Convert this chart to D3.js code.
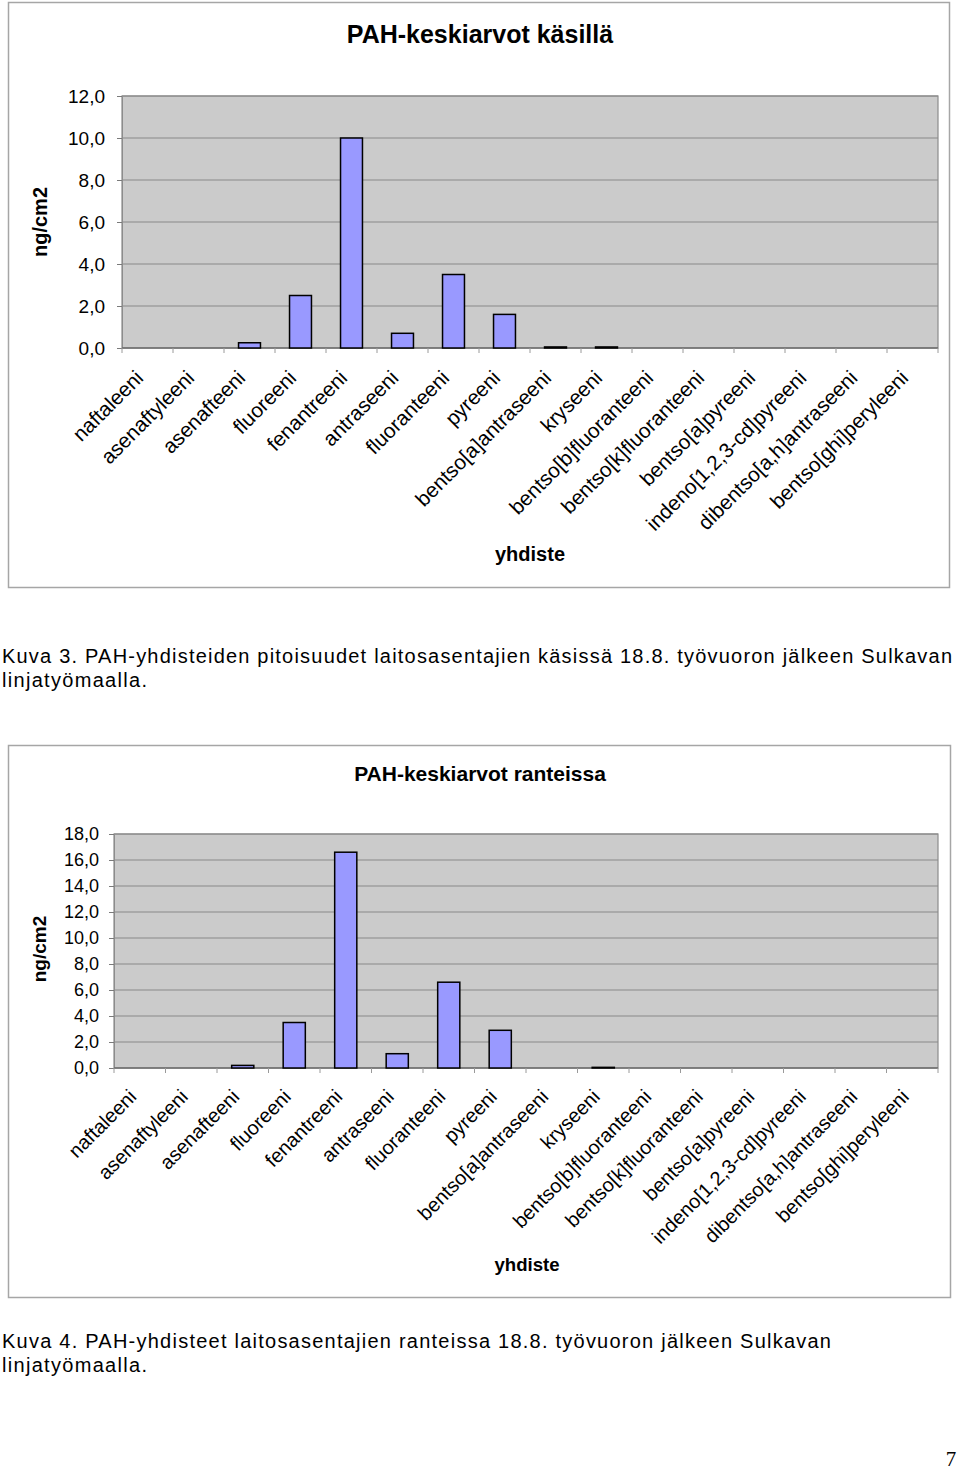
<!DOCTYPE html>
<html>
<head>
<meta charset="utf-8">
<script src="https://cdn.jsdelivr.net/npm/d3@7"></script>
<style>
  html, body { margin: 0; padding: 0; background: #ffffff; }
  svg { display: block; }
  text { font-family: "Liberation Sans", Arial, sans-serif; fill: #000; }
</style>
</head>
<body>
<svg id="page" width="960" height="1470"></svg>
<script>
// ---------------- data ----------------
const categories = [
  "naftaleeni", "asenaftyleeni", "asenafteeni", "fluoreeni", "fenantreeni",
  "antraseeni", "fluoranteeni", "pyreeni", "bentso[a]antraseeni", "kryseeni",
  "bentso[b]fluoranteeni", "bentso[k]fluoranteeni", "bentso[a]pyreeni",
  "indeno[1,2,3-cd]pyreeni", "dibentso[a,h]antraseeni", "bentso[ghi]peryleeni"
];
// Kuva 3: hands (käsillä), ng/cm2
const handsValues = [0, 0, 0.25, 2.5, 10.0, 0.7, 3.5, 1.6, 0.05, 0.05, 0, 0, 0, 0, 0, 0];
// Kuva 4: wrists (ranteissa), ng/cm2
const wristValues = [0, 0, 0.2, 3.5, 16.6, 1.1, 6.6, 2.9, 0, 0.05, 0, 0, 0, 0, 0, 0];
const handsTicks = [0, 2, 4, 6, 8, 10, 12];
const wristTicks = [0, 2, 4, 6, 8, 10, 12, 14, 16, 18];
const handsTitle = "PAH-keskiarvot käsillä";
const wristTitle = "PAH-keskiarvot ranteissa";
const yTitle = "ng/cm2";
const xTitle = "yhdiste";
const caption3 = ["Kuva 3. PAH-yhdisteiden pitoisuudet laitosasentajien käsissä 18.8. työvuoron jälkeen Sulkavan", "linjatyömaalla."];
const caption4 = ["Kuva 4. PAH-yhdisteet laitosasentajien ranteissa 18.8. työvuoron jälkeen Sulkavan", "linjatyömaalla."];
const pageNumber = "7";

// ---------------- drawing ----------------
const svg = d3.select("#page");
const fiLocale = d3.formatLocale({ decimal: ",", thousands: " ", grouping: [3], currency: ["", " €"] });
const fmt = fiLocale.format(".1f");

function drawChart(cfg) {
  const g = svg.append("g");
  // outer chart frame
  g.append("rect")
    .attr("x", cfg.frame[0] + 0.5).attr("y", cfg.frame[1] + 0.5)
    .attr("width", cfg.frame[2]).attr("height", cfg.frame[3])
    .attr("fill", "#fff").attr("stroke", "#a6a6a6").attr("stroke-width", 1.5);

  const x = d3.scaleBand().domain(categories).range([cfg.left, cfg.right]).padding(0);
  const xBar = d3.scaleBand().domain(categories).range([cfg.left, cfg.right])
    .paddingInner(0.57).paddingOuter(0.285);
  const y = d3.scaleLinear().domain([0, d3.max(cfg.ticks)]).range([cfg.bottom, cfg.top]);

  // plot area
  g.append("rect")
    .attr("x", cfg.left).attr("y", cfg.top)
    .attr("width", cfg.right - cfg.left).attr("height", cfg.bottom - cfg.top)
    .attr("fill", "#cbcbcb").attr("stroke", "#8c8c8c").attr("stroke-width", 1.2);

  // gridlines
  g.append("g").selectAll("line").data(cfg.ticks.slice(1)).join("line")
    .attr("x1", cfg.left).attr("x2", cfg.right)
    .attr("y1", d => y(d)).attr("y2", d => y(d))
    .attr("stroke", "#8a8a8a").attr("stroke-width", 1.2);

  // y axis
  const yAxis = g.append("g")
    .attr("transform", `translate(${cfg.left},0)`)
    .call(d3.axisLeft(y).tickValues(cfg.ticks).tickFormat(fmt).tickSize(5).tickPadding(cfg.tickPad));
  yAxis.select(".domain").attr("stroke", "#8c8c8c");
  yAxis.selectAll(".tick line").attr("stroke", "#7a7a7a");
  yAxis.selectAll(".tick text")
    .style("font-family", '"Liberation Sans", Arial, sans-serif')
    .style("font-size", cfg.tickFont + "px").attr("fill", "#000");

  // x axis: ticks at category boundaries
  const xAxisG = g.append("g").attr("transform", `translate(0,${cfg.bottom})`);
  xAxisG.append("line").attr("x1", cfg.left).attr("x2", cfg.right)
    .attr("y1", 0).attr("y2", 0).attr("stroke", "#6e6e6e").attr("stroke-width", 1.5);
  const bounds = categories.map(c => x(c)).concat([cfg.right]);
  xAxisG.selectAll("line.tk").data(bounds).join("line").attr("class", "tk")
    .attr("x1", d => d).attr("x2", d => d).attr("y1", 0).attr("y2", 5)
    .attr("stroke", "#9a9a9a").attr("stroke-width", 1);

  // bars
  g.append("g").selectAll("rect").data(cfg.values.map((v, i) => ({ c: categories[i], v })).filter(d => d.v > 0))
    .join("rect")
    .attr("x", d => xBar(d.c)).attr("width", xBar.bandwidth())
    .attr("y", d => y(d.v)).attr("height", d => Math.max(0.5, cfg.bottom - y(d.v)))
    .attr("fill", "#9999ff").attr("stroke", "#000").attr("stroke-width", 1.5);

  // category labels
  g.append("g").selectAll("text").data(categories).join("text")
    .attr("transform", d => `translate(${x(d) + x.bandwidth() / 2 + cfg.labDx},${cfg.bottom + cfg.labDy}) rotate(-45)`)
    .attr("text-anchor", "end").attr("dy", "0.35em")
    .style("font-size", cfg.labFont + "px")
    .text(d => d);

  // titles
  g.append("text").attr("x", cfg.titleX).attr("y", cfg.titleY)
    .attr("text-anchor", "middle").style("font-weight", "bold").style("font-size", cfg.titleFont + "px")
    .text(cfg.title);
  g.append("text").attr("transform", `translate(${cfg.yTitleX},${cfg.yTitleY}) rotate(-90)`)
    .attr("text-anchor", "middle").style("font-weight", "bold").style("font-size", cfg.yTitleFont + "px")
    .text(yTitle);
  g.append("text").attr("x", cfg.xTitleX).attr("y", cfg.xTitleY)
    .attr("text-anchor", "middle").style("font-weight", "bold").style("font-size", cfg.xTitleFont + "px")
    .text(xTitle);
}

drawChart({
  frame: [8, 2, 941, 585],
  left: 122, right: 938, top: 96, bottom: 348,
  values: handsValues, ticks: handsTicks, title: handsTitle,
  tickFont: 19, tickPad: 12, labFont: 20.7, labDx: -8, labDy: 26,
  titleX: 480, titleY: 43, titleFont: 25,
  yTitleX: 47, yTitleY: 222, yTitleFont: 20,
  xTitleX: 530, xTitleY: 561, xTitleFont: 20
});

drawChart({
  frame: [8, 745, 942, 552],
  left: 114, right: 938, top: 834, bottom: 1068,
  values: wristValues, ticks: wristTicks, title: wristTitle,
  tickFont: 18, tickPad: 10, labFont: 19.9, labDx: -7, labDy: 25,
  titleX: 480, titleY: 781, titleFont: 21,
  yTitleX: 46, yTitleY: 949, yTitleFont: 19,
  xTitleX: 527, xTitleY: 1271, xTitleFont: 18.6
});

// captions
function caption(lines, y0, widths) {
  lines.forEach((t, i) => {
    svg.append("text").attr("x", 2).attr("y", y0 + i * 24)
      .attr("textLength", widths[i]).attr("lengthAdjust", "spacing")
      .style("font-size", "20px").text(t);
  });
}
caption(caption3, 663, [950, 145]);
caption(caption4, 1348, [829, 145]);

svg.append("text").attr("x", 951).attr("y", 1466).attr("text-anchor", "middle")
  .style("font-family", '"Liberation Serif", "Times New Roman", serif').style("font-size", "21px")
  .text(pageNumber);
</script>
</body>
</html>
